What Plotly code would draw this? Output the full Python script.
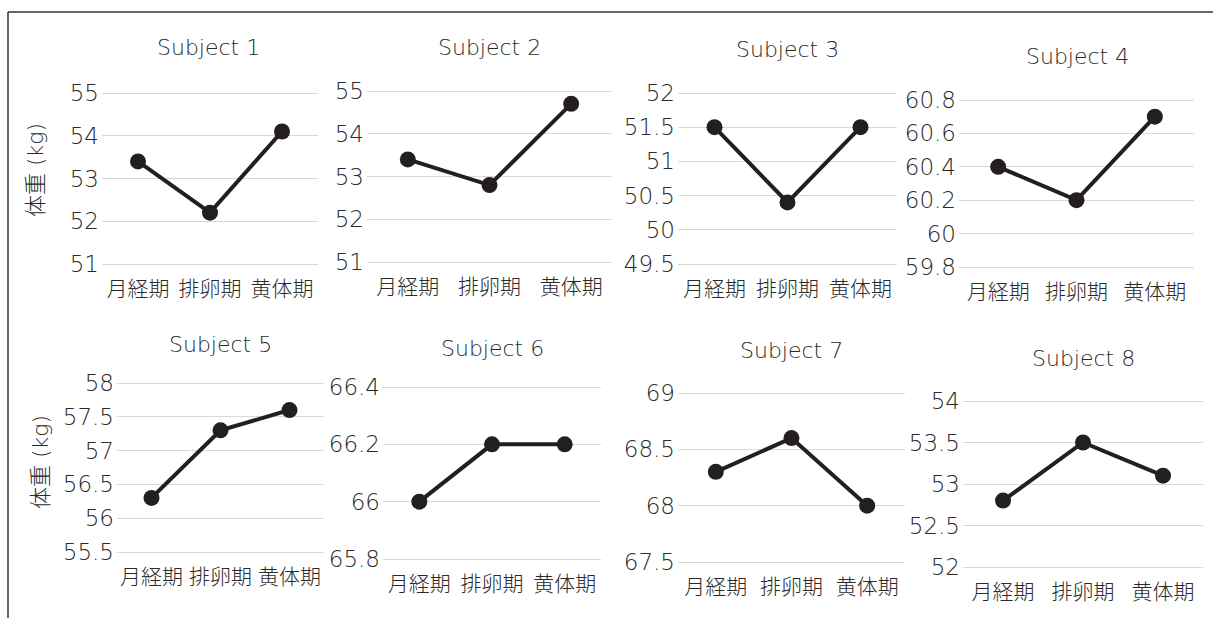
import plotly.graph_objects as go

W, H = 1213, 618

phases = ["月経期", "排卵期", "黄体期"]
subjects = ["Subject 1", "Subject 2", "Subject 3", "Subject 4",
            "Subject 5", "Subject 6", "Subject 7", "Subject 8"]

s1 = [53.4, 52.2, 54.1]
s2 = [53.4, 52.8, 54.7]
s3 = [51.5, 50.4, 51.5]
s4 = [60.4, 60.2, 60.7]
s5 = [56.3, 57.3, 57.6]
s6 = [66.0, 66.2, 66.2]
s7 = [68.3, 68.6, 68.0]
s8 = [52.8, 53.5, 53.1]
series = [s1, s2, s3, s4, s5, s6, s7, s8]

y_ranges = [[51, 55], [51, 55], [49.5, 52], [59.8, 60.8],
            [55.5, 58], [65.8, 66.4], [67.5, 69], [52, 54]]
y_dticks = [1, 1, 0.5, 0.2, 0.5, 0.2, 0.5, 0.5]
y_title = "体重 (kg)"

# pixel boxes of each plot area: x0, x1, ytop, ybottom
boxes = [
    (102, 318, 93, 264),
    (367, 612, 91, 262),
    (678, 897, 93, 264),
    (959, 1194, 100, 267),
    (117, 324, 383, 552),
    (383, 601, 387, 559),
    (678, 905, 393, 562),
    (963, 1203, 401, 567),
]
title_pos = [(208, 48), (489, 47), (787, 49), (1077, 57),
             (220, 344), (492, 348), (791, 350), (1083, 358)]

FONT = "DejaVu Sans, Noto Sans CJK JP, sans-serif"
TXT = "#2a2a2a"
LINE = "#231f20"
PAD = 2  # px padding so edge grid lines are drawn

fig = go.Figure()
layout = dict(
    width=W, height=H, margin=dict(l=0, r=0, t=0, b=0, autoexpand=False),
    autosize=False,
    paper_bgcolor="white", plot_bgcolor="white", showlegend=False,
    font=dict(family=FONT, size=21, color=TXT, weight=300),
)
annotations = []
for i, (vals, box, rng, dt) in enumerate(zip(series, boxes, y_ranges, y_dticks)):
    n = i + 1
    xa = "xaxis" if n == 1 else f"xaxis{n}"
    ya = "yaxis" if n == 1 else f"yaxis{n}"
    xr = "x" if n == 1 else f"x{n}"
    yr = "y" if n == 1 else f"y{n}"
    x0, x1, yt, yb = box
    upp = (rng[1] - rng[0]) / (yb - yt)
    fig.add_trace(go.Scatter(
        x=phases, y=vals, xaxis=xr, yaxis=yr, mode="lines+markers",
        line=dict(color=LINE, width=4),
        marker=dict(color=LINE, size=16),
        cliponaxis=False,
    ))
    layout[xa] = dict(
        domain=[x0 / W, x1 / W], anchor=yr, type="category", automargin=False,
        showgrid=False, zeroline=False, showline=False, ticks="",
        tickfont=dict(family=FONT, size=21, color=TXT, weight=300),
        range=[-0.5, 2.5], ticklabelstandoff=8,
    )
    layout[ya] = dict(
        domain=[1 - (yb + PAD) / H, 1 - (yt - PAD) / H], anchor=xr, automargin=False,
        range=[rng[0] - PAD * upp, rng[1] + PAD * upp], dtick=dt, tick0=0,
        showgrid=True, gridcolor="#d9d9d9",
        gridwidth=1.3, zeroline=False, showline=False, ticks="",
        tickfont=dict(family=FONT, size=23, color=TXT, weight=300),
        ticklabelstandoff=2,
    )
    tx, ty = title_pos[i]
    annotations.append(dict(
        text=subjects[i], x=tx / W, y=1 - ty / H, xref="paper", yref="paper",
        showarrow=False, xanchor="center", yanchor="middle",
        font=dict(family=FONT, size=22, color=TXT, weight=300),
    ))

for (px, py) in [(36, 170), (40, 462)]:
    annotations.append(dict(
        text=y_title, x=px / W, y=1 - py / H, xref="paper", yref="paper",
        showarrow=False, xanchor="center", yanchor="middle", textangle=-90,
        font=dict(family=FONT, size=22, color=TXT, weight=300),
    ))

layout["annotations"] = annotations
layout["shapes"] = [
    dict(type="line", xref="paper", yref="paper", x0=8 / W, x1=1, y0=1 - 12 / H, y1=1 - 12 / H,
         line=dict(color="#333333", width=1.5)),
    dict(type="line", xref="paper", yref="paper", x0=8 / W, x1=8 / W, y0=1 - 12 / H, y1=0,
         line=dict(color="#333333", width=1.5)),
]
fig.update_layout(**layout)
fig.write_html("out.html")
